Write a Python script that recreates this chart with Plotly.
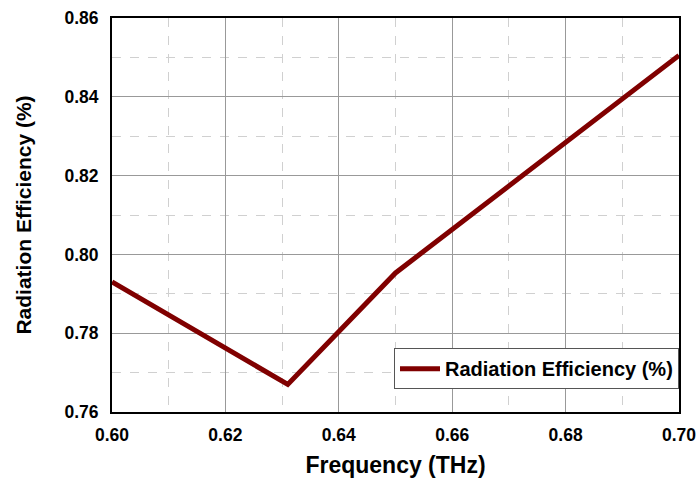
import plotly.graph_objects as go

freq = [0.60, 0.631, 0.65, 0.70]
efficiency = [0.793, 0.767, 0.7953, 0.8505]
x_ticks = [0.60, 0.62, 0.64, 0.66, 0.68, 0.70]
y_ticks = [0.76, 0.78, 0.80, 0.82, 0.84, 0.86]

fig = go.Figure()
fig.add_trace(go.Scatter(x=freq, y=efficiency, mode="lines",
                         name="Radiation Efficiency (%)",
                         line=dict(color="#800000", width=5)))

font = "Liberation Sans, Arial, sans-serif"
axis_common = dict(showline=True, linecolor="black", linewidth=2, mirror=True,
                   showgrid=True, gridcolor="#999999", gridwidth=1,
                   zeroline=False, ticks="", automargin=False,
                   tickfont=dict(family=font, size=17.5, color="black", weight="bold"),
                   minor=dict(showgrid=True, gridcolor="#d0d0d0", griddash="dash", gridwidth=1))

fig.update_xaxes(range=[0.60, 0.70], tickvals=x_ticks,
                 ticktext=[f"{v:.2f}" for v in x_ticks],
                 minor_dtick=0.01, ticklabelstandoff=6,
                 title=dict(text="Frequency (THz)", font=dict(family=font, size=23, color="black", weight="bold"), standoff=14),
                 **axis_common)
fig.update_yaxes(range=[0.76, 0.86], tickvals=y_ticks,
                 ticktext=[f"{v:.2f}" for v in y_ticks],
                 minor_dtick=0.01, ticklabelstandoff=8,
                 title=dict(text="Radiation Efficiency (%)", font=dict(family=font, size=21, color="black", weight="bold"), standoff=27),
                 **axis_common)

fig.update_layout(width=699, height=478,
                  margin=dict(l=112, r=20, t=18, b=66),
                  plot_bgcolor="white", paper_bgcolor="white",
                  legend=dict(x=1, y=0.058, xanchor="right", yanchor="bottom",
                              bgcolor="white", bordercolor="#555555", borderwidth=1,
                              font=dict(family=font, size=20, color="black", weight="bold"),
                              tracegroupgap=0, itemwidth=40),
                  showlegend=True)

fig.write_html("out.html")
